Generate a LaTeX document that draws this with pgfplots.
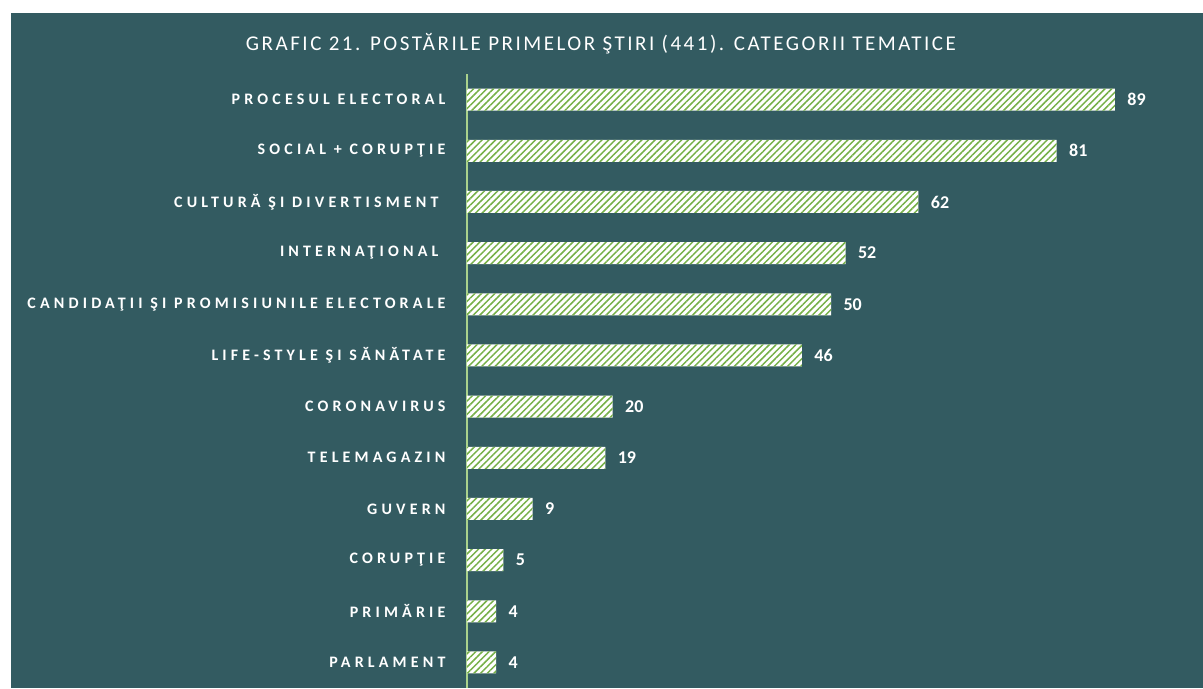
\documentclass[border=0pt]{standalone}
\usepackage{pgfplots}
\pgfplotsset{compat=1.18}
\usepackage{fontspec}
\setmainfont{Carlito}
\usetikzlibrary{patterns.meta}
\definecolor{bg}{RGB}{51,91,97}
\definecolor{hatchgreen}{RGB}{118,176,72}
\definecolor{axisgreen}{RGB}{170,210,140}
\newfontfamily\labfont[LetterSpace=26]{Carlito}
\newfontfamily\titfont[LetterSpace=12]{Carlito}
\begin{document}
\begin{tikzpicture}[x=1pt,y=1pt]
\fill[white] (0,0) rectangle (1203,688);
\fill[bg] (11,0) rectangle (1203,675);
\node[text=white, font=\titfont\fontsize{21}{25}\selectfont, anchor=center] at (601,644) {GRAFIC 21. POSTĂRILE PRIMELOR ŞTIRI (441). CATEGORII TEMATICE};
\begin{axis}[
  at={(467pt,0pt)}, anchor=south west,
  scale only axis, width=728pt, height=614pt,
  xbar, bar width=22pt,
  xmin=0, xmax=100, ymin=-0.5, ymax=11.5, y dir=reverse,
  axis x line=none, axis y line*=left,
  y axis line style={-, draw=axisgreen, line width=1.3pt},
  ytick={0,...,11}, major tick length=0pt,
  yticklabels={PROCESUL ELECTORAL, SOCIAL + CORUPŢIE, CULTURĂ ŞI DIVERTISMENT\kern7pt, INTERNAŢIONAL\kern7pt, CANDIDAŢII ŞI PROMISIUNILE ELECTORALE, LIFE-STYLE ŞI SĂNĂTATE, CORONAVIRUS, TELEMAGAZIN, GUVERN, CORUPŢIE, PRIMĂRIE, PARLAMENT},
  yticklabel style={text=white, font=\labfont\bfseries\fontsize{16}{18}\selectfont, xshift=-18pt},
  nodes near coords,
  /pgf/number format/assume math mode=true,
  nodes near coords style={text=white, font=\bfseries\fontsize{18}{20}\selectfont, xshift=9pt},
  clip=false,
]
\addplot[draw=none, fill=white, postaction={pattern={Lines[angle=45,distance=4.7pt,line width=1.5pt]}, pattern color=hatchgreen}] coordinates {
(89,0) (81,1) (62,2) (52,3) (50,4) (46,5) (20,6) (19,7) (9,8) (5,9) (4,10) (4,11)
};
\end{axis}
\end{tikzpicture}
\end{document}
